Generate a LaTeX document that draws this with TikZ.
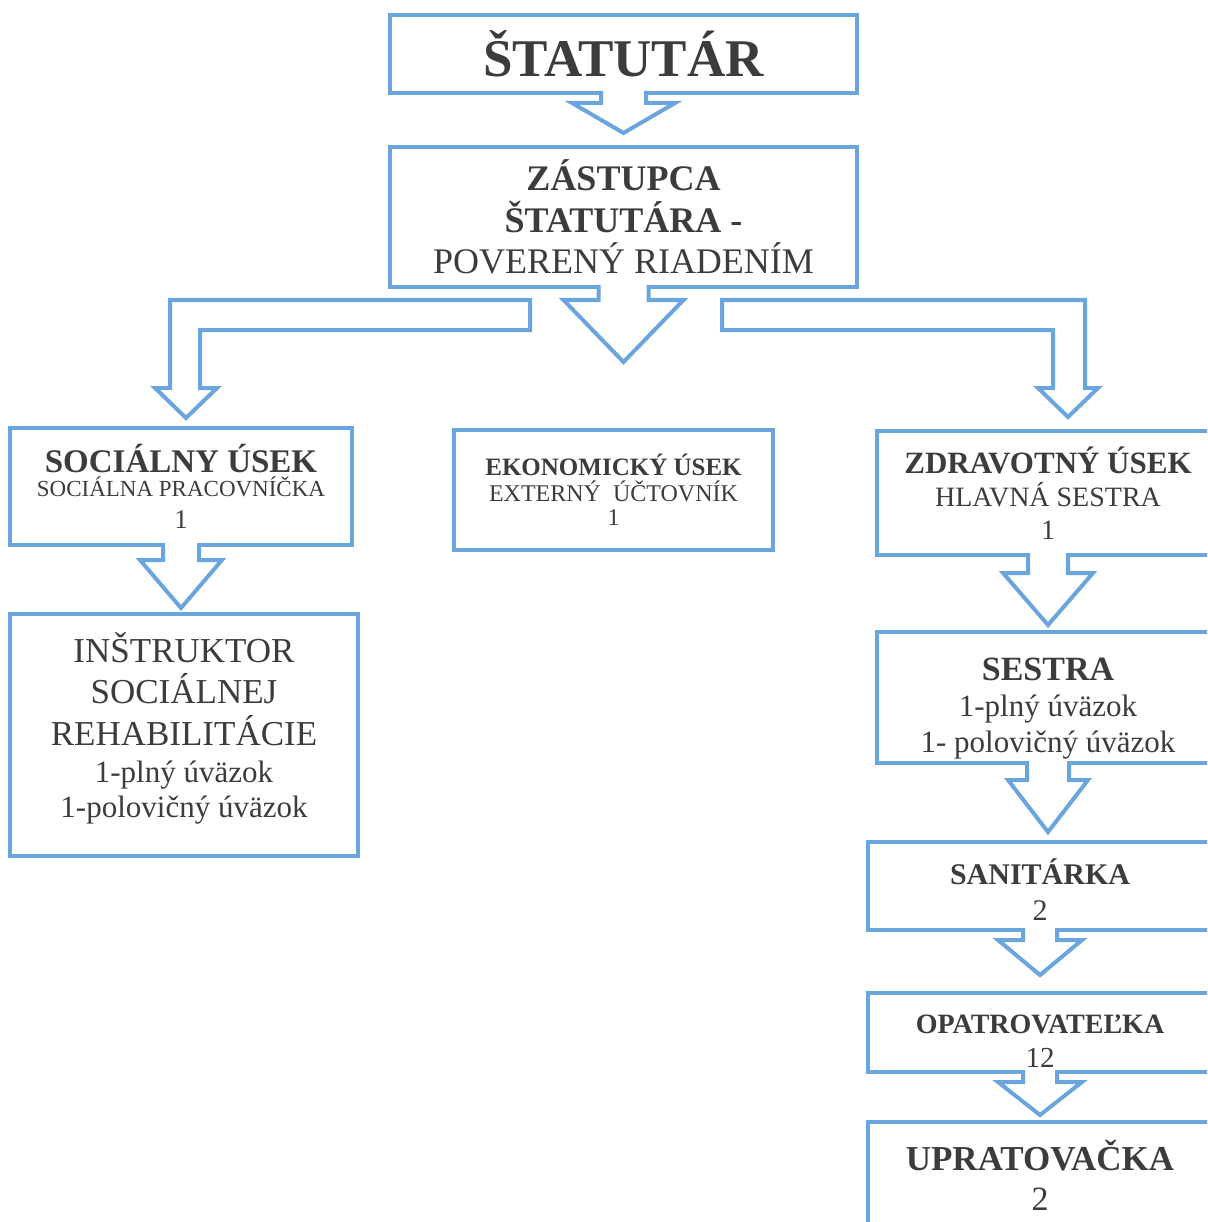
\documentclass[tikz,border=0pt]{standalone}
\usepackage{fontspec}
\setmainfont{Liberation Serif}
\usetikzlibrary{positioning,calc}
\definecolor{orgblue}{HTML}{6AA5DE}
\definecolor{orgtext}{HTML}{3C3C3C}
% hollow block arrow: from, to, shaft half width, head half width, shaft length, gap
\newcommand{\blockarrow}[6]{%
  \filldraw[barrow] let \p1=(#1.south), \p2=(#2.north) in
    (\x1-#3pt,\y1+2pt) -- (\x1-#3pt,\y1-#5pt) -- (\x1-#4pt,\y1-#5pt)
    -- (\x1,\y2+#6pt) -- (\x1+#4pt,\y1-#5pt) -- (\x1+#3pt,\y1-#5pt)
    -- (\x1+#3pt,\y1+2pt);}
% room above the first baseline / below the last one
\newcommand{\linetop}[1]{\rule{0pt}{#1pt}}
\newcommand{\linebot}[1]{\rule[-#1pt]{0pt}{0pt}}

\begin{document}
\begin{tikzpicture}[x=1pt,y=-1pt,
  unit/.style={draw=orgblue,line width=4pt,fill=white,outer sep=0pt,
               inner sep=0pt,align=center,text=orgtext},
  barrow/.style={draw=orgblue,fill=white,line width=4pt,line join=miter}]
  \useasboundingbox (0,0) rectangle (1207,1222);
  \clip (0,0) rectangle (1207,1222);

  \node[unit,minimum width=467pt,minimum height=78pt,
        font=\fontsize{53}{56}\selectfont\bfseries] (stat) at (623.5,54)
        {\linetop{62}ŠTATUTÁR\linebot{16}};
  \node[unit,minimum width=467pt,minimum height=140pt,below=54pt of stat,
        font=\fontsize{36}{41.5}\selectfont] (zast)
        {{\bfseries ZÁSTUPCA}\\{\bfseries ŠTATUTÁRA -}\\POVERENÝ RIADENÍM};

  \node[unit,minimum width=342pt,minimum height=117pt,
        font=\fontsize{23}{28}\selectfont] (soc) at (181,486.5)
        {\linetop{43}{\fontsize{33}{38}\selectfont\bfseries SOCIÁLNY ÚSEK}\\[-4pt]
         SOCIÁLNA PRACOVNÍČKA\\[4pt]{\fontsize{27}{30}\selectfont 1}\linebot{15}};
  \node[unit,minimum width=319pt,minimum height=120pt,
        font=\fontsize{24}{26}\selectfont] (ekon) at (613.5,490)
        {{\fontsize{25}{28}\selectfont\bfseries EKONOMICKÝ ÚSEK}\\
         EXTERNÝ\ \ ÚČTOVNÍK\\[-2pt]1};
  \node[unit,minimum width=342pt,minimum height=124pt,
        font=\fontsize{28}{33}\selectfont] (zdrav) at (1048,493)
        {{\fontsize{31}{36}\selectfont\bfseries ZDRAVOTNÝ ÚSEK}\\
         HLAVNÁ SESTRA\\1};

  \node[unit,minimum width=348pt,minimum height=242pt,below=69pt of soc,xshift=3pt,
        font=\fontsize{35}{41}\selectfont] (instr)
        {\linetop{48}INŠTRUKTOR\\SOCIÁLNEJ\\[1pt]REHABILITÁCIE\\[-4pt]
         {\fontsize{31}{35}\selectfont 1-plný úväzok}\\[-6pt]
         {\fontsize{31}{35}\selectfont 1-polovičný úväzok}\linebot{39}};

  \node[unit,minimum width=342pt,minimum height=131pt,below=77pt of zdrav,
        font=\fontsize{31}{36}\selectfont] (sestra)
        {\linetop{48}{\fontsize{34}{38}\selectfont\bfseries SESTRA}\\
         1-plný úväzok\\1- polovičný úväzok\linebot{11}};
  \node[unit,minimum width=344pt,minimum height=88pt,below=79pt of sestra,xshift=-8pt,
        font=\fontsize{30}{36}\selectfont] (sanit)
        {\linetop{42}{\bfseries SANITÁRKA}\\2\linebot{10}};
  \node[unit,minimum width=344pt,minimum height=79pt,below=63pt of sanit,
        font=\fontsize{29}{34}\selectfont] (opatr)
        {\linetop{40}{\fontsize{28}{32}\selectfont\bfseries OPATROVATEĽKA}\\12\linebot{5}};
  \node[unit,minimum width=344pt,minimum height=118pt,below=50pt of opatr,
        font=\fontsize{34}{40}\selectfont] (uprat)
        {\linetop{48}{\fontsize{35}{40}\selectfont\bfseries UPRATOVAČKA}\\2\linebot{30}};

  % straight arrows
  \blockarrow{stat}{zast}{22.5}{51.5}{10}{14}
  \blockarrow{zast}{ekon}{25}{60}{13}{68}
  \blockarrow{soc}{instr}{18}{41}{15}{6}
  \blockarrow{zdrav}{sestra}{20}{45}{18}{7}
  \blockarrow{sestra}{sanit}{21}{40}{17}{10}
  \blockarrow{sanit}{opatr}{17}{42}{10}{18}
  \blockarrow{opatr}{uprat}{17}{42}{10}{7}

  % bent arrows to the side units
  \filldraw[barrow] ($(zast.south)+(-93.5,13)$) -| ($(soc.north)+(-11,-40)$)
    -- ++(-15,0) -- ($(soc.north)+(5,-10)$) -- ($(soc.north)+(36,-40)$)
    -- ++(-17,0) |- ($(zast.south)+(-93.5,43)$) -- cycle;
  \filldraw[barrow] ($(zast.south)+(98.5,13)$) -| ($(zdrav.north)+(37,-43)$)
    -- ++(13,0) -- ($(zdrav.north)+(20,-14)$) -- ($(zdrav.north)+(-10,-43)$)
    -- ++(15,0) |- ($(zast.south)+(98.5,43)$) -- cycle;
\end{tikzpicture}
\end{document}
